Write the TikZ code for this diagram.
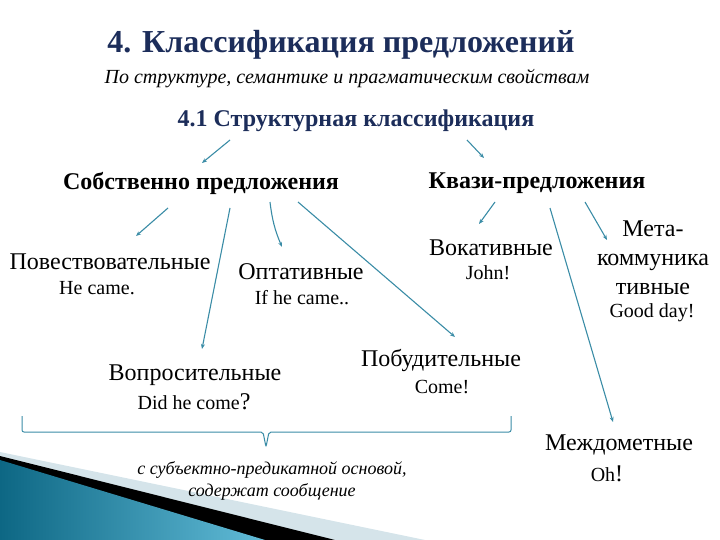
\documentclass[tikz,border=0pt]{standalone}
\usepackage{fontspec}
\setmainfont{Liberation Serif}
\usetikzlibrary{arrows.meta, positioning, calc}
\definecolor{navy}{HTML}{1C2D5A}
\definecolor{arrteal}{HTML}{3A8CA6}
\definecolor{wedgedark}{HTML}{0D6784}
\definecolor{wedgelight}{HTML}{62BCD8}
\definecolor{wedgegray}{HTML}{D5E4EA}

\begin{document}
\begin{tikzpicture}[x=1pt, y=-1pt, >={Stealth[length=5pt, width=4pt]}, line width=1.1pt,
  headline/.style={font=\fontsize{24}{28}\selectfont\bfseries, inner sep=0pt},
  kind/.style={font=\fontsize{24}{29}\selectfont, inner sep=0pt, align=center},
  sample/.style={font=\fontsize{20}{22}\selectfont, inner sep=0pt},
  branch/.style={arrteal, line width=1.1pt, ->}
]

\useasboundingbox (0,0) rectangle (720,540);

% Corner wedge
\fill[wedgegray] (0,452) -- (425,540) -- (0,540) -- cycle;
\fill[black] (0,456) -- (335,540) -- (0,540) -- cycle;
\shade[left color=wedgedark, right color=wedgelight] (0,460) -- (265,540) -- (0,540) -- cycle;

% Title
\node[font=\fontsize{32}{36}\selectfont\bfseries, text=navy, inner sep=0pt] (title) at (341,45)
  {4. Классификация предложений};
\node[font=\fontsize{20}{24}\selectfont\itshape, inner sep=0pt] (subtitle) at (347,79)
  {По структуре, семантике и прагматическим свойствам};
\node[font=\fontsize{24}{28}\selectfont\bfseries, text=navy, inner sep=0pt] (struct) at (356,121)
  {4.1 Структурная классификация};

% Two main groups
\node[headline] (proper) at (201,183) {Собственно предложения};
\node[headline] (quasi) at (537,183) {Квази-предложения};

% Proper sentences
\node[kind] (narr) at (110,262) {Повествовательные};
\node[sample] (narrex) at (97,288) {He came.};
\node[kind] (opt) at (301,272) {Оптативные};
\node[sample] (optex) at (302,298) {If he came..};
\node[kind] (quest) at (195,375) {Вопросительные};
\node[sample] (questex) at (194,402) {Did he come{\fontsize{24}{24}\selectfont?}};
\node[kind] (imp) at (441,360) {Побудительные};
\node[sample] (impex) at (442,387) {Come!};

% Quasi sentences
\node[kind] (voc) at (491,248) {Вокативные};
\node[sample] (vocex) at (488,273) {John!};
\node[kind] (meta) at (653,258) {Мета-\\коммуника\\тивные};
\node[sample] (metaex) at (652,313) {Good day!};
\node[kind] (interj) at (619,445) {Междометные};
\node[sample] (interjex) at (607,474) {Oh{\fontsize{24}{24}\selectfont!}};

% Arrows
\draw[branch] ($(struct)+(-126,19)$) -- ($(proper)+(1,-20)$);
\draw[branch] ($(struct)+(111,19)$) -- ($(quasi)+(-53,-25)$);
\draw[branch] ($(proper)+(-33,25)$) -- ($(narr)+(26,-26)$);
\draw[branch] ($(proper)+(29,25)$) -- ($(quest)+(7,-26)$);
\draw[branch] ($(proper)+(69,19)$) to[bend right=8] ($(opt)+(-19,-25)$);
\draw[branch] ($(proper)+(97,19)$) -- ($(imp)+(14,-23)$);
\draw[branch] ($(quasi)+(-42,19)$) -- ($(voc)+(-12,-24)$);
\draw[branch] ($(quasi)+(13,25)$) -- ($(interj)+(-6,-23)$);
\draw[branch] ($(quasi)+(48,19)$) -- ($(meta)+(-46,-18)$);

% Brace under the proper sentences
\draw[arrteal, line width=1pt, rounded corners=2pt]
  (22,416) |- (263,432) -- (266,447) -- (269,432) -| (511,416);
\node[font=\fontsize{18}{22}\selectfont\itshape, inner sep=0pt, align=center] (note) at (272,481)
  {с субъектно-предикатной основой,\\содержат сообщение};

\end{tikzpicture}
\end{document}
